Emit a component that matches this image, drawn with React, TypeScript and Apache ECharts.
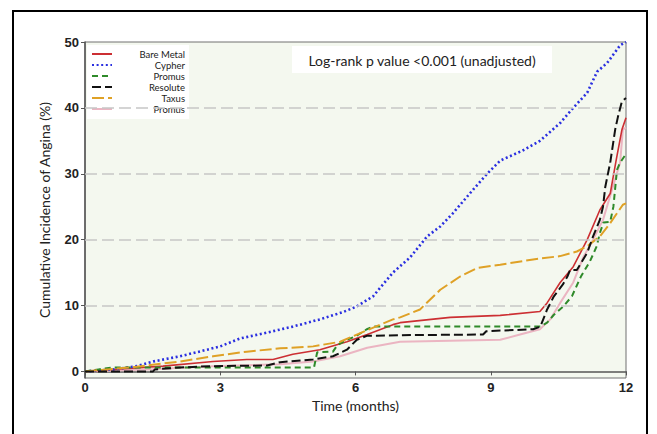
import React, { useEffect, useRef } from "react";
import * as echarts from "echarts";

const seriesNames = ["Bare Metal", "Cypher", "Promus (1)", "Resolute", "Taxus", "Promus (2)"];
const legendLabels = ["Bare Metal", "Cypher", "Promus", "Resolute", "Taxus", "Promus"];

const bareMetal: [number, number][] = [
  [0, 0], [0.62, 0.3], [1.73, 0.8], [2.84, 1.5], [3.59, 1.8], [4.17, 1.8], [4.61, 2.6], [5.21, 3.3],
  [5.81, 4.5], [6.26, 5.6], [6.83, 7.1], [6.99, 7.4], [8.1, 8.2], [9.21, 8.5], [10.09, 9.1],
  [10.25, 10.4], [10.54, 13.5], [10.83, 15.9], [11.14, 20], [11.42, 24.5], [11.65, 27], [11.78, 32],
  [11.91, 36.7], [12, 38.5],
];
const cypher: [number, number][] = [
  [0, 0], [0.62, 0.3], [1.15, 0.8], [1.51, 1.5], [2.11, 2.3], [2.71, 3.3], [3.0, 3.8], [3.44, 5.0],
  [4.04, 5.9], [4.61, 6.8], [5.21, 7.9], [5.72, 9.0], [6.01, 9.8], [6.39, 11.4], [6.83, 15.0],
  [7.21, 17.3], [7.59, 20.5], [7.88, 22.0], [8.16, 24.0], [8.61, 27.6], [8.92, 30.0], [9.21, 32.0],
  [9.7, 33.5], [10.09, 35.0], [10.54, 37.7], [10.83, 40.0], [11.14, 42.3], [11.36, 45.5],
  [11.58, 46.8], [11.87, 49.5], [12, 50],
];
const promus1: [number, number][] = [
  [0, 0], [0.3, 0.3], [0.6, 0.6], [5.08, 0.6], [5.15, 2.9], [5.5, 3.0], [5.6, 4.0], [5.8, 4.8],
  [6.0, 5.3], [6.25, 6.4], [6.4, 6.8], [10.1, 6.8], [10.25, 7.4], [10.4, 8.6], [10.6, 9.8],
  [10.8, 11.4], [11.0, 14.4], [11.2, 16.7], [11.35, 19], [11.42, 21], [11.5, 22.6], [11.65, 22.7],
  [11.72, 25], [11.8, 30.6], [11.87, 31.7], [12, 33],
];
const resolute: [number, number][] = [
  [0, 0], [1.51, 0], [1.55, 0.3], [2.1, 0.6], [2.84, 0.8], [4.04, 0.9], [4.33, 1.4], [5.06, 1.8],
  [5.5, 2.3], [5.81, 3.3], [6.03, 4.8], [6.25, 5.4], [7.0, 5.5], [8.83, 5.6], [8.9, 6.1],
  [9.94, 6.4], [10.1, 6.8], [10.25, 9.4], [10.4, 11.4], [10.6, 13.2], [10.7, 14.4], [10.76, 15.4],
  [10.91, 15.4], [11.14, 18], [11.27, 20.5], [11.42, 23], [11.49, 25], [11.54, 28], [11.65, 31.7],
  [11.76, 36.7], [11.82, 38.6], [11.91, 41], [12, 41.5],
];
const taxus: [number, number][] = [
  [0, 0], [1.0, 0.6], [2.1, 1.5], [2.84, 2.3], [3.59, 3.0], [4.33, 3.5], [5.06, 3.8], [5.66, 4.5],
  [6.17, 6.0], [6.83, 7.9], [6.99, 8.2], [7.43, 9.4], [7.88, 12.4], [8.32, 14.4], [8.7, 15.7],
  [9.21, 16.2], [9.94, 17.0], [10.54, 17.5], [10.91, 18.2], [11.14, 19.0], [11.42, 20.5],
  [11.65, 22.5], [11.93, 25.3], [12, 25.5],
];
const promus2: [number, number][] = [
  [0, 0], [1.375, 0.3], [2.84, 0.8], [4.33, 1.1], [5.06, 1.5], [5.66, 2.3], [6.26, 3.6], [6.99, 4.5],
  [9.21, 4.8], [9.65, 5.6], [10.09, 6.4], [10.32, 7.9], [10.54, 10.4], [10.83, 13.5], [11.05, 17.3],
  [11.27, 20], [11.49, 23], [11.87, 31.7], [11.93, 36.7], [12, 37],
];

const xTicks = [0, 3, 6, 9, 12];
const yTicks = [0, 10, 20, 30, 40, 50];
const gridValues = [10, 20, 30, 40];
const annotation = "Log-rank p value <0.001 (unadjusted)";

export default function App() {
  const ref = useRef<HTMLDivElement>(null);
  useEffect(() => {
    if (!ref.current) return;
    const chart = echarts.init(ref.current, null, { renderer: "svg" });
    const dataSets = [bareMetal, cypher, promus1, resolute, taxus, promus2];
    const styles = [
      { color: "#cc2f33", width: 1.6, type: "solid" as any },
      { color: "#2a2fe0", width: 2.6, type: [2, 2.6] as any },
      { color: "#2f8a2a", width: 2, type: [6, 4] as any },
      { color: "#111111", width: 2, type: [9, 4] as any },
      { color: "#dfa126", width: 2, type: [12, 4] as any },
      { color: "#ebb5c2", width: 2, type: "solid" as any },
    ];
    const series: any[] = dataSets.map((d, i) => ({
      name: seriesNames[i],
      type: "line",
      data: d,
      showSymbol: false,
      symbol: "none",
      lineStyle: styles[i],
      itemStyle: { color: styles[i].color },
      z: 3 + (i === 5 ? 0 : i === 3 ? 2 : 1),
    }));
    series.push({
      type: "line",
      data: [],
      z: 1,
      silent: true,
      markLine: {
        silent: true,
        symbol: "none",
        label: { show: false },
        lineStyle: { color: "#c6c6c6", type: [12, 5], width: 1.5 },
        data: gridValues.map((v) => ({ yAxis: v })),
      },
    });
    chart.setOption({
      animation: false,
      grid: {
        left: 85,
        right: 31,
        top: 42,
        bottom: 56,
        show: true,
        backgroundColor: "#f4f8ef",
        borderColor: "#707070",
        borderWidth: 1,
      },
      legend: {
        data: seriesNames,
        orient: "vertical",
        left: 87,
        top: 45,
        backgroundColor: "#ffffff",
        padding: [4, 4, 5, 4],
        itemWidth: 20,
        itemHeight: 8,
        itemGap: 1,
        itemStyle: { color: "rgba(0,0,0,0)", borderWidth: 0, opacity: 0 },
        formatter: (name: string) => "{t|" + legendLabels[seriesNames.indexOf(name)] + "}",
        textStyle: {
          fontFamily: "Lato",
          fontSize: 9,
          color: "#222",
          rich: { t: { width: 68, align: "right", fontFamily: "Lato", fontSize: 9.5, color: "#222" } },
        },
      },
      xAxis: {
        type: "value",
        min: 0,
        max: 12,
        interval: 3,
        name: "Time (months)",
        nameLocation: "middle",
        nameGap: 19,
        nameTextStyle: { fontFamily: "Lato", fontSize: 14, color: "#222" },
        axisLine: { show: true, lineStyle: { color: "#555", width: 1.5 } },
        axisTick: { show: true, length: 4, lineStyle: { color: "#555" } },
        axisLabel: { fontFamily: "Liberation Sans", fontSize: 13, fontWeight: "bold", color: "#222", margin: 3, customValues: xTicks },
        splitLine: { show: false },
      },
      yAxis: {
        type: "value",
        min: -1,
        max: 50,
        name: "Cumulative Incidence of Angina (%)",
        nameLocation: "middle",
        nameRotate: 90,
        nameGap: 34,
        nameTextStyle: { fontFamily: "Lato", fontSize: 14, color: "#222" },
        axisLine: { show: true, lineStyle: { color: "#555", width: 1.5 } },
        axisTick: { show: true, length: 4, lineStyle: { color: "#555" }, customValues: yTicks },
        axisLabel: { fontFamily: "Liberation Sans", fontSize: 13, fontWeight: "bold", color: "#222", margin: 6, customValues: yTicks },
        splitLine: { show: false },
      },
      graphic: [
        {
          type: "rect",
          z: 10,
          shape: { x: 13, y: 11, width: 634, height: 440 },
          style: { fill: "none", stroke: "#000", lineWidth: 2 },
          silent: true,
        },
        {
          type: "rect",
          z: 10,
          shape: { x: 292, y: 46, width: 260, height: 27 },
          style: { fill: "#ffffff" },
          silent: true,
        },
        {
          type: "text",
          z: 11,
          x: 422,
          y: 60,
          style: {
            text: annotation,
            fontFamily: "Lato",
            fontSize: 14,
            fill: "#222",
            align: "center",
            verticalAlign: "middle",
          },
        },
      ],
      series,
    });
    return () => chart.dispose();
  }, []);
  return (
    <div
      ref={ref}
      style={{ position: "absolute", left: 0, top: 0, width: 657, height: 434, background: "#fff" }}
    />
  );
}
